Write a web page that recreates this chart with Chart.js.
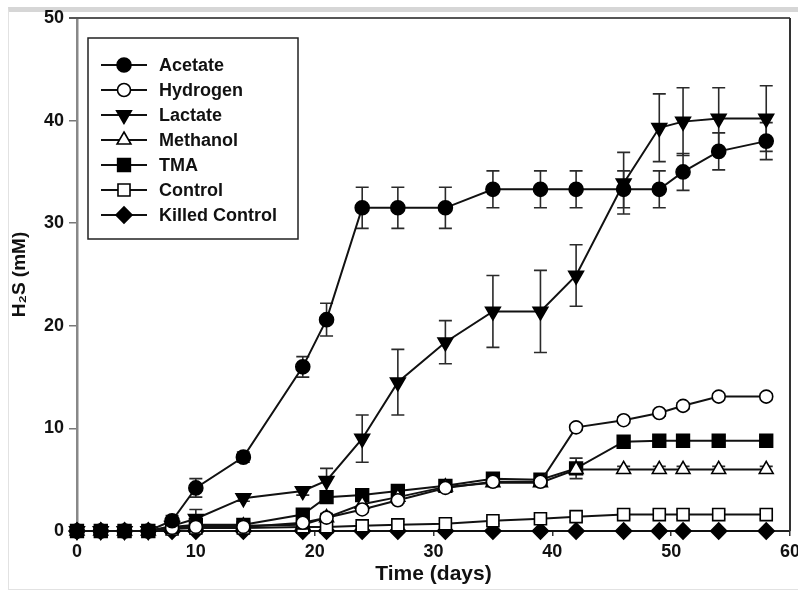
<!DOCTYPE html>
<html>
<head>
<meta charset="utf-8">
<script src="https://cdn.jsdelivr.net/npm/chart.js@4.4.1/dist/chart.umd.min.js"></script>
<style>
  html, body { margin: 0; padding: 0; background: #fff; overflow: hidden; }
  #frame { position: absolute; left: 8px; top: 7px; width: 800px; height: 583px; box-sizing: border-box;
           border-top: 5px solid #d6d6d6; border-left: 1px solid #e2e2e2; border-bottom: 1px solid #e2e2e2; }
  #wrap { position: absolute; left: 0; top: 0; width: 812px; height: 591px; }
</style>
</head>
<body>
<div id="frame"></div>
<div id="wrap"><canvas id="h2sChart" width="812" height="591"></canvas></div>
<script>
// sampling days
const days = [0, 2, 4, 6, 8, 10, 14, 19, 21, 24, 27, 31, 35, 39, 42, 46, 49, 51, 54, 58];

// H2S (mM) per treatment, with +/- error
const acetate    = [0, 0, 0, 0, 1.0, 4.2, 7.2, 16.0, 20.6, 31.5, 31.5, 31.5, 33.3, 33.3, 33.3, 33.3, 33.3, 35.0, 37.0, 38.0];
const acetateErr = [0, 0, 0, 0, 0.5, 0.9, 0.5, 1.0, 1.6, 2.0, 2.0, 2.0, 1.8, 1.8, 1.8, 1.8, 1.8, 1.8, 1.8, 1.8];
const hydrogen    = [0, 0, 0, 0, 0.3, 0.4, 0.4, 0.8, 1.3, 2.1, 3.0, 4.2, 4.8, 4.8, 10.1, 10.8, 11.5, 12.2, 13.1, 13.1];
const hydrogenErr = [0, 0, 0, 0, 0.2, 0.2, 0.2, 0.3, 0.3, 0.3, 0.3, 0.3, 0.3, 0.3, 0.3, 0.3, 0.3, 0.3, 0.3, 0.3];
const lactate    = [0, 0, 0, 0, 0.5, 1.2, 3.2, 3.9, 4.9, 9.0, 14.5, 18.4, 21.4, 21.4, 24.9, 33.9, 39.3, 39.9, 40.2, 40.2];
const lactateErr = [0, 0, 0, 0, 0.3, 0.9, 0.3, 0.4, 1.2, 2.3, 3.2, 2.1, 3.5, 4.0, 3.0, 3.0, 3.3, 3.3, 3.0, 3.2];
const methanol    = [0, 0, 0, 0, 0.3, 0.5, 0.5, 0.6, 1.3, 2.6, 3.3, 4.3, 4.7, 4.7, 6.0, 6.0, 6.0, 6.0, 6.0, 6.0];
const methanolErr = [0, 0, 0, 0, 0.2, 0.2, 0.2, 0.3, 0.4, 0.3, 0.3, 0.3, 0.3, 0.3, 0.3, 0.3, 0.3, 0.3, 0.3, 0.3];
const tma    = [0, 0, 0, 0, 0.4, 0.6, 0.6, 1.6, 3.3, 3.5, 3.9, 4.4, 5.1, 5.0, 6.1, 8.7, 8.8, 8.8, 8.8, 8.8];
const tmaErr = [0, 0, 0, 0, 0.2, 0.2, 0.2, 0.3, 0.4, 0.4, 0.4, 0.4, 0.4, 0.4, 1.0, 0.4, 0.4, 0.4, 0.4, 0.4];
const control    = [0, 0, 0, 0, 0.2, 0.3, 0.3, 0.4, 0.4, 0.5, 0.6, 0.7, 1.0, 1.2, 1.4, 1.6, 1.6, 1.6, 1.6, 1.6];
const controlErr = [0, 0, 0, 0, 0.1, 0.1, 0.1, 0.2, 0.2, 0.2, 0.3, 0.3, 0.3, 0.3, 0.4, 0.4, 0.4, 0.4, 0.4, 0.4];
const killed    = [0, 0, 0, 0, 0, 0, 0, 0, 0, 0, 0, 0, 0, 0, 0, 0, 0, 0, 0, 0];
const killedErr = [0, 0, 0, 0, 0, 0, 0, 0, 0, 0, 0, 0, 0, 0, 0, 0, 0, 0, 0, 0];

const seriesNames = ['Acetate', 'Hydrogen', 'Lactate', 'Methanol', 'TMA', 'Control', 'Killed Control'];
const seriesValues = [acetate, hydrogen, lactate, methanol, tma, control, killed];
const seriesErrors = [acetateErr, hydrogenErr, lactateErr, methanolErr, tmaErr, controlErr, killedErr];

const xTickStep = 10, xMin = 0, xMax = 60;
const yTickStep = 10, yMin = 0, yMax = 50;

// marker look for each series
const markers = [
  { style: 'circle',   radius: 7,   rotation: 0,   fill: '#000' },
  { style: 'circle',   radius: 6.5, rotation: 0,   fill: '#fff' },
  { style: 'triangle', radius: 8.5, rotation: 180, fill: '#000' },
  { style: 'triangle', radius: 8,   rotation: 0,   fill: '#fff' },
  { style: 'rect',     radius: 9,   rotation: 0,   fill: '#000' },
  { style: 'rect',     radius: 8.5, rotation: 0,   fill: '#fff' },
  { style: 'rectRot',  radius: 8,   rotation: 0,   fill: '#000' }
];

const INK = '#111';
const FONT = "'Liberation Sans', Arial, Helvetica, sans-serif";

const datasets = seriesNames.map((name, i) => ({
  label: name,
  data: days.map((d, k) => ({ x: d, y: seriesValues[i][k] })),
  errors: seriesErrors[i],
  borderColor: INK,
  borderWidth: 2,
  tension: 0,
  pointStyle: markers[i].style,
  pointRadius: markers[i].radius,
  pointRotation: markers[i].rotation,
  pointBackgroundColor: markers[i].fill,
  pointBorderColor: '#000',
  pointBorderWidth: 1.6,
  clip: false
}));

// vertical error bars with caps, drawn under the markers
const errorBars = {
  id: 'errorBars',
  beforeDatasetsDraw(chart) {
    const ctx = chart.ctx;
    const y = chart.scales.y;
    ctx.save();
    ctx.strokeStyle = '#2a2a2a';
    ctx.lineWidth = 1.6;
    chart.data.datasets.forEach((ds, i) => {
      const meta = chart.getDatasetMeta(i);
      meta.data.forEach((pt, k) => {
        const e = ds.errors[k];
        if (!e) return;
        const v = ds.data[k].y;
        const top = y.getPixelForValue(v + e);
        const bot = y.getPixelForValue(v - e);
        ctx.beginPath();
        ctx.moveTo(pt.x, top); ctx.lineTo(pt.x, bot);
        ctx.moveTo(pt.x - 6.5, top); ctx.lineTo(pt.x + 6.5, top);
        ctx.moveTo(pt.x - 6.5, bot); ctx.lineTo(pt.x + 6.5, bot);
        ctx.stroke();
      });
    });
    ctx.restore();
  }
};

// top and right frame lines of the plot area
const plotFrame = {
  id: 'plotFrame',
  afterDraw(chart) {
    const { ctx, chartArea: a } = chart;
    ctx.save();
    ctx.lineWidth = 2;
    ctx.strokeStyle = '#555';
    ctx.beginPath(); ctx.moveTo(a.left - 8, a.top); ctx.lineTo(a.right, a.top); ctx.stroke();
    ctx.strokeStyle = '#333';
    ctx.beginPath(); ctx.moveTo(a.right, a.top); ctx.lineTo(a.right, a.bottom); ctx.stroke();
    ctx.restore();
  }
};

// boxed legend inside the plot, top-left
const boxLegend = {
  id: 'boxLegend',
  afterDraw(chart) {
    const ctx = chart.ctx;
    const bx = 88, by = 38, bw = 210, bh = 201;
    ctx.save();
    ctx.fillStyle = '#fff';
    ctx.fillRect(bx, by, bw, bh);
    ctx.strokeStyle = '#222';
    ctx.lineWidth = 1.5;
    ctx.strokeRect(bx, by, bw, bh);
    chart.data.datasets.forEach((ds, i) => {
      const ry = 65 + i * 25;
      ctx.strokeStyle = INK;
      ctx.lineWidth = 2;
      ctx.beginPath(); ctx.moveTo(101, ry); ctx.lineTo(147, ry); ctx.stroke();
      ctx.fillStyle = ds.pointBackgroundColor;
      ctx.strokeStyle = '#000';
      ctx.lineWidth = 1.6;
      Chart.helpers.drawPoint(ctx, {
        pointStyle: ds.pointStyle, radius: ds.pointRadius,
        rotation: ds.pointRotation, borderWidth: 1.6
      }, 124, ry);
      ctx.fillStyle = INK;
      ctx.font = 'bold 18px ' + FONT;
      ctx.textBaseline = 'middle';
      ctx.textAlign = 'left';
      ctx.fillText(ds.label, 159, ry + 1);
    });
    ctx.restore();
  }
};

new Chart(document.getElementById('h2sChart'), {
  type: 'line',
  data: { datasets },
  plugins: [errorBars, plotFrame, boxLegend],
  options: {
    responsive: false,
    animation: false,
    layout: { padding: { left: 0, right: 22, top: 18, bottom: 0 } },
    plugins: { legend: { display: false }, tooltip: { enabled: false } },
    scales: {
      x: {
        type: 'linear', min: xMin, max: xMax,
        ticks: { stepSize: xTickStep, color: INK, padding: 5, maxRotation: 0,
                 font: { family: FONT, size: 18, weight: 'bold' } },
        grid: { drawOnChartArea: false, tickLength: 5, color: '#333', lineWidth: 1.5 },
        border: { color: '#222', width: 2 },
        title: { display: true, text: 'Time (days)', color: INK, padding: { top: 0, bottom: 4 },
                 font: { family: FONT, size: 21, weight: 'bold' } },
        afterFit(s) { s.height = 60; }
      },
      y: {
        min: yMin, max: yMax,
        ticks: { stepSize: yTickStep, color: INK, padding: 5,
                 font: { family: FONT, size: 18, weight: 'bold' } },
        grid: { drawOnChartArea: false, tickLength: 8, color: '#777', lineWidth: 1.5 },
        border: { color: '#888', width: 2.5 },
        title: { display: true, text: 'H₂S (mM)', color: INK, padding: { top: 8, bottom: 0 },
                 font: { family: FONT, size: 19, weight: 'bold' } },
        afterFit(s) { s.width = 77; }
      }
    }
  }
});
</script>
</body>
</html>
